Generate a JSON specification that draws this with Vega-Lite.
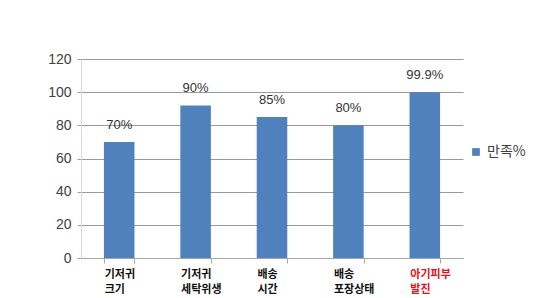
{
  "$schema": "https://vega.github.io/schema/vega-lite/v6.json",
  "width": 382,
  "height": 199,
  "autosize": {"type": "none"},
  "padding": {"left": 81, "top": 59, "right": 87, "bottom": 40},
  "background": "white",
  "config": {"view": {"stroke": null}, "font": "Noto Sans CJK KR"},
  "data": {
    "values": [
      {"item": "기저귀 크기", "value": 70, "label": "70%", "series": "만족%"},
      {"item": "기저귀 세탁위생", "value": 92, "label": "90%", "series": "만족%"},
      {"item": "배송 시간", "value": 85, "label": "85%", "series": "만족%"},
      {"item": "배송 포장상태", "value": 80, "label": "80%", "series": "만족%"},
      {"item": "아기피부 발진", "value": 99.9, "label": "99.9%", "series": "만족%"}
    ]
  },
  "encoding": {
    "x": {
      "field": "item", "type": "nominal", "sort": null,
      "scale": {"paddingInner": 0.6, "paddingOuter": 0.3},
      "axis": {
        "title": null, "labelAngle": 0, "labelAlign": "left", "labelOffset": -15,
        "labelExpr": "split(datum.label, ' ')", "labelFont": "Noto Sans CJK KR",
        "labelFontWeight": "bold", "labelFontSize": 11, "labelLineHeight": 15,
        "labelColor": {"condition": {"test": "datum.value == '아기피부 발진'", "value": "#e8101a"}, "value": "#111111"},
        "labelPadding": 5,
        "domainColor": "#a6a6a6", "tickColor": "#a6a6a6", "tickBand": "extent", "tickSize": 5
      }
    },
    "y": {
      "field": "value", "type": "quantitative",
      "scale": {"domain": [0, 120], "nice": false},
      "axis": {
        "title": null, "values": [0, 20, 40, 60, 80, 100, 120], "labelFontSize": 14,
        "labelColor": "#404040", "labelFont": "Liberation Sans", "labelPadding": 6,
        "gridColor": "#9a9a9a", "domainColor": "#d9d9d9", "tickColor": "#9a9a9a", "tickSize": 4
      }
    }
  },
  "layer": [
    {
      "mark": {"type": "bar", "color": "#4f81bd"},
      "encoding": {
        "color": {
          "field": "series", "type": "nominal",
          "scale": {"range": ["#4f81bd"]},
          "legend": {
            "title": null, "orient": "none", "legendX": 388, "legendY": 86,
            "symbolType": "square", "symbolSize": 60, "labelFontSize": 14,
            "labelColor": "#404040", "labelFont": "Noto Sans CJK KR"
          }
        }
      }
    },
    {
      "mark": {"type": "text", "baseline": "bottom", "dy": -10, "fontSize": 13, "color": "#333333", "font": "Liberation Sans"},
      "encoding": {"text": {"field": "label"}}
    }
  ]
}
